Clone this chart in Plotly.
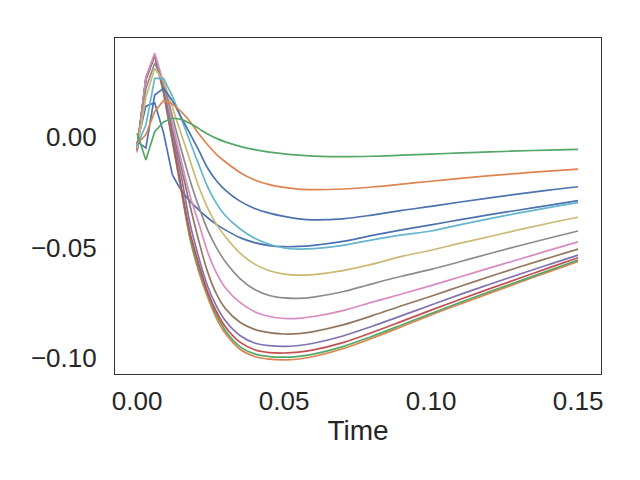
import plotly.graph_objects as go

time = [0, 0.003, 0.006, 0.009, 0.012, 0.015, 0.018, 0.021, 0.024, 0.027, 0.03,
        0.035, 0.04, 0.045, 0.05, 0.055, 0.06, 0.07, 0.08, 0.09, 0.1, 0.11, 0.12,
        0.13, 0.14, 0.15]

s0 = [-0.003, 0.014, 0.0155, 0.002, -0.017, -0.024, -0.029, -0.033, -0.0365, -0.0395, -0.042,
      -0.0455, -0.0478, -0.0491, -0.0496, -0.0495, -0.0490, -0.0472, -0.0445, -0.0420, -0.0397,
      -0.0374, -0.0351, -0.0330, -0.0309, -0.0288]
s1 = [-0.006, 0.026, 0.037, 0.020, -0.002, -0.024, -0.046, -0.061, -0.0725, -0.082, -0.0888,
      -0.0960, -0.0993, -0.1005, -0.1008, -0.1004, -0.0993, -0.0958, -0.0910, -0.0858, -0.0805,
      -0.0755, -0.0706, -0.0658, -0.0610, -0.0563]
s2 = [-0.005, 0.026, 0.037, 0.0205, -0.0015, -0.0235, -0.045, -0.0595, -0.071, -0.0805, -0.0875,
      -0.0948, -0.0981, -0.0993, -0.0996, -0.0992, -0.0982, -0.0948, -0.0901, -0.0850, -0.0798,
      -0.0748, -0.0699, -0.0652, -0.0604, -0.0557]
s3 = [-0.005, 0.026, 0.037, 0.021, -0.0005, -0.0225, -0.043, -0.0575, -0.070, -0.0790, -0.0858,
      -0.0928, -0.0962, -0.0975, -0.0977, -0.0973, -0.0963, -0.0930, -0.0884, -0.0834, -0.0783,
      -0.0734, -0.0686, -0.0639, -0.0592, -0.0546]
s4 = [-0.006, 0.0265, 0.037, 0.022, 0.001, -0.0175, -0.039, -0.0545, -0.0675, -0.0765, -0.0830,
      -0.0898, -0.0932, -0.0944, -0.0947, -0.0943, -0.0933, -0.0900, -0.0856, -0.0808, -0.0760,
      -0.0712, -0.0666, -0.0621, -0.0577, -0.0534]
s5 = [-0.006, 0.027, 0.037, 0.023, 0.0035, -0.0135, -0.0310, -0.0470, -0.0610, -0.0710, -0.0775,
      -0.0838, -0.0870, -0.0885, -0.0891, -0.0889, -0.0880, -0.0850, -0.0808, -0.0763, -0.0720,
      -0.0675, -0.0631, -0.0588, -0.0547, -0.0507]
s6 = [-0.007, 0.027, 0.038, 0.0245, 0.0065, -0.0105, -0.0265, -0.0390, -0.0520, -0.0615, -0.0682,
      -0.0748, -0.0790, -0.0812, -0.0821, -0.0820, -0.0812, -0.0785, -0.0747, -0.0710, -0.0672,
      -0.0632, -0.0592, -0.0553, -0.0513, -0.0474]
s7 = [-0.006, 0.022, 0.0335, 0.0245, 0.0095, -0.0055, -0.0195, -0.0315, -0.0420, -0.0500, -0.0563,
      -0.0640, -0.0690, -0.0717, -0.0728, -0.0730, -0.0724, -0.0700, -0.0664, -0.0630, -0.0599,
      -0.0563, -0.0527, -0.0492, -0.0458, -0.0425]
s8 = [-0.005, 0.018, 0.031, 0.0255, 0.0135, 0.0015, -0.0105, -0.0225, -0.0320, -0.0395, -0.0450,
      -0.0525, -0.0575, -0.0605, -0.0620, -0.0625, -0.0622, -0.0604, -0.0575, -0.0540, -0.0512,
      -0.0480, -0.0450, -0.0419, -0.0390, -0.0363]
s9 = [-0.004, 0.0054, 0.0265, 0.0265, 0.0185, 0.0085, -0.002, -0.0125, -0.0225, -0.030, -0.0355,
      -0.0415, -0.0458, -0.0485, -0.0502, -0.0507, -0.0505, -0.0490, -0.0465, -0.0443, -0.0425,
      -0.0396, -0.0369, -0.0343, -0.0319, -0.0297]
s10 = [-0.002, -0.005, 0.019, 0.022, 0.0165, 0.0090, 0.0015, -0.0060, -0.0140, -0.0198, -0.0240,
       -0.0290, -0.0323, -0.0344, -0.0359, -0.0370, -0.0375, -0.0370, -0.0353, -0.0332, -0.0314,
       -0.0294, -0.0275, -0.0257, -0.0240, -0.0225]
s11 = [-0.003, 0.001, 0.0115, 0.0165, 0.0150, 0.0115, 0.0070, 0.0015, -0.0035, -0.0078, -0.0112,
       -0.0160, -0.0194, -0.0215, -0.0228, -0.0236, -0.0238, -0.0235, -0.0226, -0.0213, -0.0200,
       -0.0187, -0.0175, -0.0164, -0.0154, -0.0145]
s12 = [0.0017, -0.0104, 0.0024, 0.0068, 0.0085, 0.0080, 0.0062, 0.0038, 0.0014, -0.0006, -0.0022,
       -0.0042, -0.0057, -0.0068, -0.0076, -0.0082, -0.0086, -0.0089, -0.0087, -0.0082, -0.0077,
       -0.0072, -0.0067, -0.0063, -0.0059, -0.0056]

series = [s0, s1, s2, s3, s4, s5, s6, s7, s8, s9, s10, s11, s12]

palette = ["#4C72B0", "#DD8452", "#55A868", "#C44E52", "#8172B3", "#937860",
           "#DA8BC3", "#8C8C8C", "#CCB974", "#64B5CD"]

x_ticks = [0.0, 0.05, 0.10, 0.15]
x_ticklabels = ["0.00", "0.05", "0.10", "0.15"]
y_ticks = [-0.10, -0.05, 0.0]
y_ticklabels = ["\u22120.10", "\u22120.05", "0.00"]

SPLIT = 4  # early sampled steps drawn straight, later part smoothed

fig = go.Figure()
for i, ys in enumerate(series):
    col = palette[i % len(palette)]
    fig.add_trace(go.Scatter(x=time[:SPLIT + 1], y=ys[:SPLIT + 1], mode="lines",
                             line=dict(color=col, width=1.7),
                             showlegend=False, hoverinfo="skip"))
    fig.add_trace(go.Scatter(x=time[SPLIT:], y=ys[SPLIT:], mode="lines",
                             line=dict(color=col, width=1.7, shape="spline", smoothing=1.0),
                             showlegend=False, hoverinfo="skip"))

fig.update_layout(
    width=640, height=480,
    margin=dict(l=115, r=39, t=38, b=106),
    paper_bgcolor="white", plot_bgcolor="white",
    font=dict(family="Liberation Sans, Arial, sans-serif", size=26, color="#262626"),
    xaxis=dict(range=[-0.0075, 0.1578], tickvals=x_ticks, ticktext=x_ticklabels,
               showgrid=False, zeroline=False, showline=True, mirror=True,
               linecolor="#333333", linewidth=1.25, ticks="", ticklabelstandoff=4,
               title=dict(text="Time", font=dict(size=28), standoff=5)),
    yaxis=dict(range=[-0.1072, 0.0448], tickvals=y_ticks, ticktext=y_ticklabels,
               showgrid=False, zeroline=False, showline=True, mirror=True,
               linecolor="#333333", linewidth=1.25, ticks="", ticklabelstandoff=12),
)

fig.write_html("out.html")
